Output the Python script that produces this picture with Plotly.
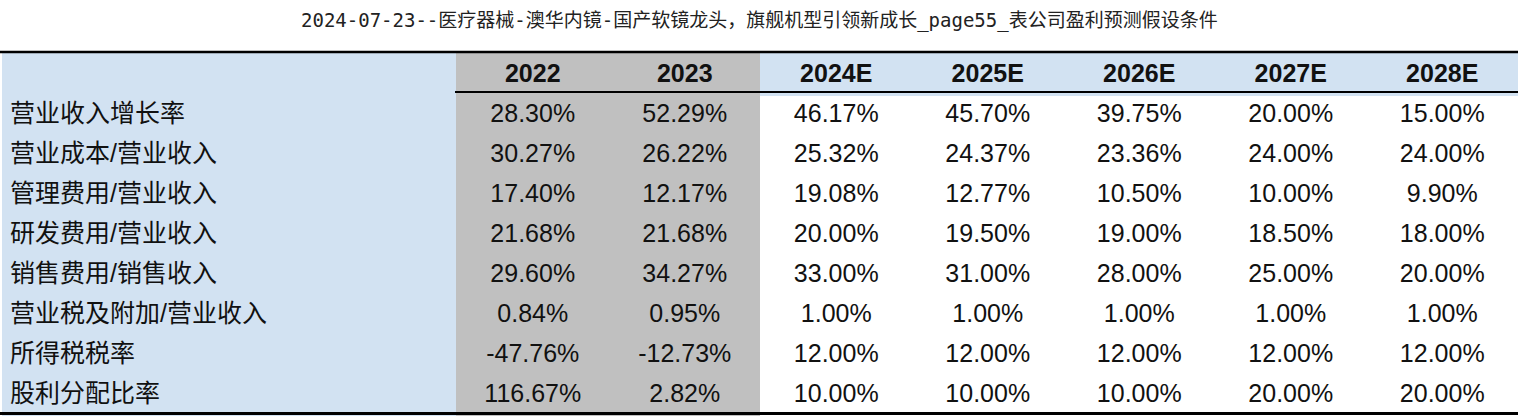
import plotly.graph_objects as go

title = "2024-07-23--医疗器械-澳华内镜-国产软镜龙头，旗舰机型引领新成长_page55_表公司盈利预测假设条件"

years = ["2022", "2023", "2024E", "2025E", "2026E", "2027E", "2028E"]
items = ["营业收入增长率", "营业成本/营业收入", "管理费用/营业收入", "研发费用/营业收入",
         "销售费用/销售收入", "营业税及附加/营业收入", "所得税税率", "股利分配比率"]

# one list per year column, rows in the order of `items`
v2022 = ["28.30%", "30.27%", "17.40%", "21.68%", "29.60%", "0.84%", "-47.76%", "116.67%"]
v2023 = ["52.29%", "26.22%", "12.17%", "21.68%", "34.27%", "0.95%", "-12.73%", "2.82%"]
v2024 = ["46.17%", "25.32%", "19.08%", "20.00%", "33.00%", "1.00%", "12.00%", "10.00%"]
v2025 = ["45.70%", "24.37%", "12.77%", "19.50%", "31.00%", "1.00%", "12.00%", "10.00%"]
v2026 = ["39.75%", "23.36%", "10.50%", "19.00%", "28.00%", "1.00%", "12.00%", "10.00%"]
v2027 = ["20.00%", "24.00%", "10.00%", "18.50%", "25.00%", "1.00%", "12.00%", "20.00%"]
v2028 = ["15.00%", "24.00%", "9.90%", "18.00%", "20.00%", "1.00%", "12.00%", "20.00%"]

blue = "#d2e2f2"
grey = "#c0c0c0"
W, H = 1518, 418
top, row_h = 52, 40

cols = [items, v2022, v2023, v2024, v2025, v2026, v2027, v2028]
n = len(items)
cell_fill = [[blue] * n, [grey] * n, [grey] * n] + [["white"] * n] * 5
head_fill = [blue, grey, grey] + [blue] * 5

fig = go.Figure(go.Table(
    domain=dict(x=[2 / W, 1], y=[0, 1 - (top - 1) / H]),
    columnwidth=[453, 152, 151, 151, 151, 151, 151, 151],
    header=dict(
        values=[""] + ["<b>%s</b>" % y for y in years],
        fill_color=head_fill,
        line=dict(color=head_fill, width=1),
        align="center",
        height=row_h,
        font=dict(family="Liberation Sans Narrow, Arial Narrow, Liberation Sans, Arial",
                  size=25, color="#111111"),
    ),
    cells=dict(
        values=cols,
        fill_color=cell_fill,
        line=dict(color=[c[0] for c in cell_fill], width=1),
        align=["left"] + ["center"] * 7,
        height=row_h,
        font=dict(family="Liberation Sans, Arial, Noto Sans CJK SC",
                  size=25, color="#111111"),
    ),
))

# rules of the table
fig.add_shape(type="line", xref="paper", yref="paper", x0=0, x1=1,
              y0=1 - top / H, y1=1 - top / H, line=dict(color="black", width=2.5))
fig.add_shape(type="line", xref="paper", yref="paper", x0=455 / W, x1=1,
              y0=1 - (top + row_h) / H, y1=1 - (top + row_h) / H,
              line=dict(color="black", width=2))
fig.add_shape(type="line", xref="paper", yref="paper", x0=0, x1=1,
              y0=1 - 413.5 / H, y1=1 - 413.5 / H, line=dict(color="black", width=3))

fig.add_annotation(text=title, xref="paper", yref="paper", x=0.5, y=1 - 21 / H,
                   showarrow=False, xanchor="center", yanchor="middle",
                   font=dict(family="DejaVu Sans Mono, Noto Sans CJK SC", size=19, color="#222222"))

fig.update_layout(width=W, height=H, margin=dict(l=0, r=0, t=0, b=0),
                  paper_bgcolor="white", plot_bgcolor="white")

fig.write_html("out.html", config={"displayModeBar": False},
               post_script="document.body.style.margin='0';")
